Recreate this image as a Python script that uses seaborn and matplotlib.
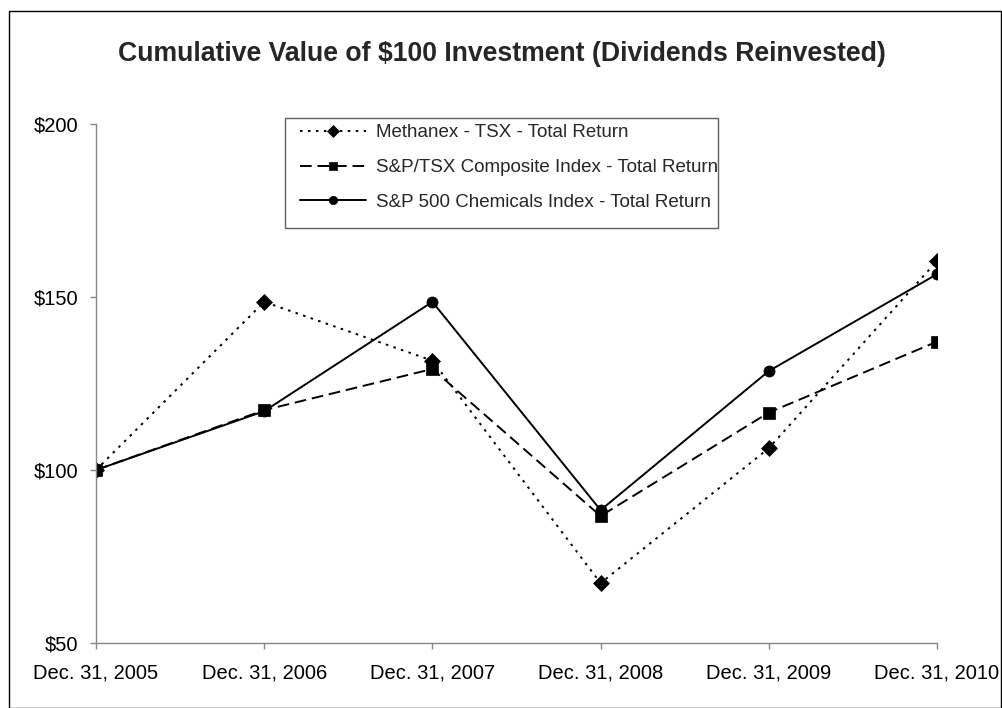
import matplotlib
matplotlib.use("Agg")
import matplotlib.pyplot as plt
import seaborn as sns
import pandas as pd
from matplotlib.patches import Rectangle

# ---- data ----
categories = ["Dec. 31, 2005", "Dec. 31, 2006", "Dec. 31, 2007",
              "Dec. 31, 2008", "Dec. 31, 2009", "Dec. 31, 2010"]
series_names = ["Methanex - TSX - Total Return",
                "S&P/TSX Composite Index - Total Return",
                "S&P 500 Chemicals Index - Total Return"]
methanex = [100, 148.6, 131.6, 67.3, 106.3, 160.4]
tsx_composite = [100, 117.3, 129.2, 86.7, 116.6, 137.1]
sp500_chemicals = [100, 117.0, 148.6, 88.4, 128.6, 156.6]
y_ticks = [50, 100, 150, 200]
y_tick_labels = ["$50", "$100", "$150", "$200"]
title = "Cumulative Value of $100 Investment (Dividends Reinvested)"

rows = []
for name, vals in zip(series_names, [methanex, tsx_composite, sp500_chemicals]):
    for i, v in enumerate(vals):
        rows.append({"pos": i, "value": v, "series": name})
df = pd.DataFrame(rows)

sns.set_theme(style="white")
plt.rcParams["font.family"] = ["Liberation Sans", "DejaVu Sans"]

W, H = 1003, 708
fig = plt.figure(figsize=(W / 100, H / 100), dpi=100)
ax = fig.add_axes([96 / W, 1 - 643 / H, (937 - 96) / W, (643 - 124) / H])

dashes = {series_names[0]: (1.3, 2.8),
          series_names[1]: (6, 3),
          series_names[2]: ""}
markers = {series_names[0]: "D", series_names[1]: "s", series_names[2]: "o"}

sns.lineplot(data=df, x="pos", y="value", hue="series", style="series",
             palette=["black"] * 3, dashes=dashes, markers=markers,
             markersize=8, linewidth=1.4, markeredgecolor="black",
             markeredgewidth=0.5, ax=ax, sort=False)

ax.set_xlim(0, len(categories) - 1)
ax.set_ylim(50, 200)
ax.set_xticks(range(len(categories)))
ax.set_xticklabels(categories)
ax.set_yticks(y_ticks)
ax.set_yticklabels(y_tick_labels)
ax.set_xlabel("")
ax.set_ylabel("")

gray = "#868686"
for s in ["top", "right"]:
    ax.spines[s].set_visible(False)
for s in ["left", "bottom"]:
    ax.spines[s].set_color(gray)
    ax.spines[s].set_linewidth(1.0)
ax.tick_params(axis="both", direction="out", length=4.5, width=1.0,
               color=gray, labelcolor="black", labelsize=14.5)
ax.tick_params(axis="x", pad=10, bottom=True)
ax.tick_params(axis="y", pad=8, left=True)
ax.grid(False)
ax.patch.set_alpha(0)

# legend
old = ax.get_legend()
handles = list(old.legend_handles)
labels = [t.get_text() for t in old.texts]
old.remove()
pairs = [(h, l) for h, l in zip(handles, labels) if l in series_names]
leg = fig.legend([p[0] for p in pairs], [p[1] for p in pairs],
                 loc="upper left", bbox_to_anchor=(300 / W, 1 - 124 / H),
                 bbox_transform=fig.transFigure, frameon=False,
                 borderpad=0, borderaxespad=0, fontsize=13.5,
                 handlelength=3.5, handletextpad=0.55, labelspacing=0.95)
for h in leg.legend_handles:
    h.set_markersize(6)
    h.set_color("black")
    h.set_markeredgecolor("black")
    h.set_markerfacecolor("black")

fig.patches.append(Rectangle((285 / W, 1 - 228 / H), (718 - 285) / W, (228 - 118) / H,
                             transform=fig.transFigure, fill=False,
                             edgecolor="#606060", linewidth=1.0))

# outer border
fig.patches.append(Rectangle((9 / W, 0.5 / H), (1001 - 9) / W, (H - 11 - 0.5) / H,
                             transform=fig.transFigure, fill=False,
                             edgecolor="black", linewidth=1.0))

fig.text(0.5, 1 - 54 / H, title, ha="center", va="center",
         fontsize=19.2, fontweight="bold")

fig.savefig("out.png", dpi=100)
